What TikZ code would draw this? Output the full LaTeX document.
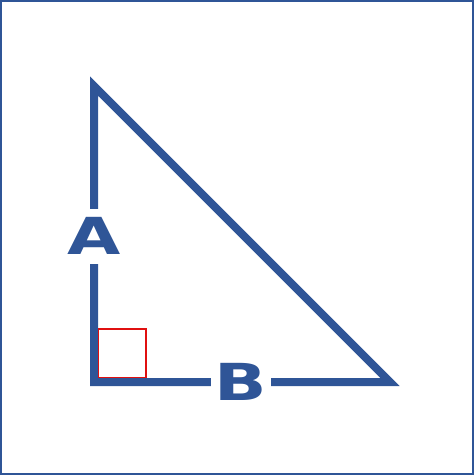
\documentclass[tikz,border=0pt]{standalone}
\usepackage{fontspec}
\usepackage{tikz}
\newfontfamily\lblfont{DejaVu Sans}
\definecolor{frameblue}{HTML}{2F5597}
\definecolor{markred}{HTML}{E01010}

\begin{document}
\begin{tikzpicture}[
  x=1pt, y=-1pt,
  side/.style={draw=frameblue, line width=8pt, miter limit=10, line join=miter},
  lbl/.style={fill=white, text=frameblue, inner xsep=3pt, inner ysep=9pt,
    text height=37pt, text depth=0pt, xscale=1.35,
    font=\lblfont\bfseries\fontsize{51}{51}\selectfont},
  rmark/.style={draw=markred, line width=1.5pt}
]
\useasboundingbox (0,0) rectangle (474,475);
\draw[frameblue, line width=2pt] (1,1) rectangle (473,474);
% triangle
\coordinate (top) at (94,86);
\coordinate (corner) at (94,382);
\coordinate (right) at (390,382);
\draw[side] (top) -- (corner) -- (right) -- cycle;
% right angle mark
\coordinate (m1) at (98.5,329);
\coordinate (m2) at (146,377.5);
\draw[rmark] (m1) rectangle (m2);
% labels
\node[lbl] (A) at (94,236) {A};
\node[lbl] (B) at (241,382) {B};
\end{tikzpicture}
\end{document}
